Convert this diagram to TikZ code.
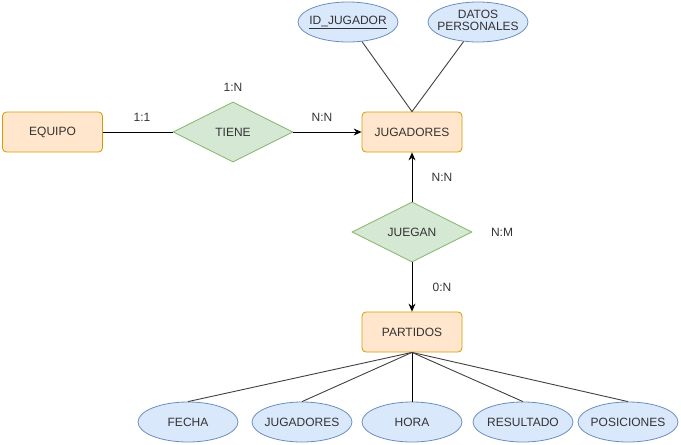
\documentclass[tikz,border=0pt]{standalone}
\usepackage{fontspec}
\setmainfont{Liberation Sans}
\usetikzlibrary{shapes.geometric,arrows.meta}
\definecolor{entfill}{HTML}{FFE6CC}
\definecolor{entdraw}{HTML}{D79B00}
\definecolor{relfill}{HTML}{D5E8D4}
\definecolor{reldraw}{HTML}{82B366}
\definecolor{attfill}{HTML}{DAE8FC}
\definecolor{attdraw}{HTML}{6C8EBF}
\definecolor{txt}{HTML}{333333}
\newcommand\attxt[1]{\makebox[0pt]{#1}}
\tikzset{
  entity/.style={draw=entdraw,fill=entfill,rounded corners=4pt,minimum width=100pt,minimum height=40pt,inner sep=0pt,text=txt,line width=0.8pt},
  relation/.style={diamond,aspect=2,draw=reldraw,fill=relfill,minimum width=120pt,minimum height=60pt,inner sep=0pt,text=txt,line width=0.8pt},
  attribute/.style={ellipse,draw=attdraw,fill=attfill,minimum width=100pt,minimum height=40pt,inner sep=0pt,text=txt,line width=0.8pt},
  card/.style={text=txt,inner sep=0pt},
  link/.style={draw=black,line width=0.9pt},
  attlink/.style={draw=black!75,line width=0.9pt},
  arrowlink/.style={draw=black,line width=0.9pt,-{Stealth[length=8pt,width=7pt]}}
}
\begin{document}
\begin{tikzpicture}[x=1pt,y=-1pt,font=\fontsize{12pt}{14pt}\selectfont]
\useasboundingbox (0,0) rectangle (681,445);
% entities
\node[entity] (equipo) at (52.5,132) {EQUIPO};
\node[entity] (jug) at (412,132) {JUGADORES};
\node[entity] (part) at (412,332) {PARTIDOS};
% relations
\node[relation] (tiene) at (233,132) {TIENE};
\node[relation] (juegan) at (412,232) {JUEGAN};
% attributes
\node[attribute] (idj) at (348,22) {\attxt{\underline{ID\_JUGADOR}}};
\node[attribute] (datos) at (478,22) {\attxt{\renewcommand\arraystretch{0.85}\begin{tabular}{@{}c@{}}DATOS\\PERSONALES\end{tabular}}};
\node[attribute] (fecha) at (188,422) {\attxt{FECHA}};
\node[attribute] (jugs) at (302,422) {\attxt{JUGADORES}};
\node[attribute] (hora) at (412,422) {\attxt{HORA}};
\node[attribute] (res) at (523,422) {\attxt{RESULTADO}};
\node[attribute] (pos) at (628,422) {\attxt{POSICIONES}};
% cardinalities
\node[card] (c1) at (233,87) {1:N};
\node[card] (c2) at (142,117) {1:1};
\node[card] (c3) at (322,117) {N:N};
\node[card] (c4) at (442,177) {N:N};
\node[card] (c5) at (502,232) {N:M};
\node[card] (c6) at (442,287) {0:N};
% connectors
\draw[link] (equipo) -- (tiene);
\draw[arrowlink] (tiene) -- (jug);
\draw[arrowlink] (juegan.north) -- (jug.south);
\draw[arrowlink] (juegan.south) -- (part.north);
\draw[attlink] (idj) -- (jug.north);
\draw[attlink] (datos) -- (jug.north);
\draw[attlink] (fecha.north) -- (part.south);
\draw[attlink] (jugs.north) -- (part.south);
\draw[link] (hora.north) -- (part.south);
\draw[attlink] (res.north) -- (part.south);
\draw[attlink] (pos.north) -- (part.south);
\end{tikzpicture}
\end{document}
